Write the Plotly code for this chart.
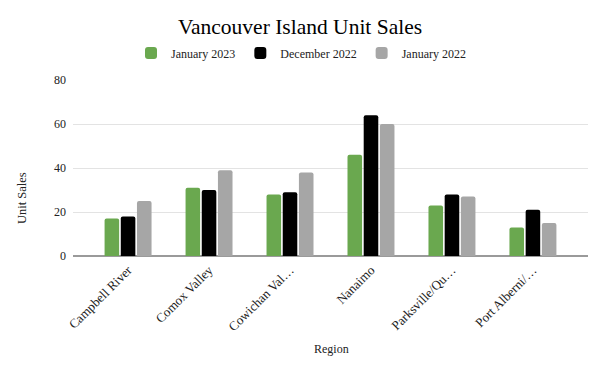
import plotly.graph_objects as go

regions = ["Campbell River", "Comox Valley", "Cowichan Val…", "Nanaimo", "Parksville/Qu…", "Port Alberni/…"]
jan_2023 = [17, 31, 28, 46, 23, 13]
dec_2022 = [18, 30, 29, 64, 28, 21]
jan_2022 = [25, 39, 38, 60, 27, 15]

series = [
    ("January 2023", jan_2023, "#6aa84f"),
    ("December 2022", dec_2022, "#000000"),
    ("January 2022", jan_2022, "#a6a6a6"),
]

FONT = "Liberation Serif, Times New Roman, serif"

fig = go.Figure()
for name, vals, color in series:
    fig.add_trace(go.Bar(
        x=regions, y=vals, name=name,
        marker=dict(color=color, line=dict(width=0), cornerradius=2),
    ))

fig.update_layout(
    width=600, height=368,
    paper_bgcolor="white", plot_bgcolor="white",
    font=dict(family=FONT, color="#222222", size=12),
    margin=dict(l=73, r=12, t=80, b=112, autoexpand=False),
    title=dict(text="Vancouver Island Unit Sales", x=0.5, xanchor="center",
               y=1 - 26 / 368, yanchor="middle",
               font=dict(family=FONT, size=21.5, color="#000000")),
    legend=dict(orientation="h", x=(301 - 73) / 515, xanchor="center", y=1 + (80 - 53) / 176,
                yanchor="middle", font=dict(family=FONT, size=12, color="#222222"),
                itemwidth=30, traceorder="normal"),
    barmode="group", bargap=0.4, bargroupgap=0.1,
    xaxis=dict(range=[-0.68, 5.68], tickangle=-45, showgrid=False, showline=False,
               ticks="", ticklabelstandoff=3,
               tickfont=dict(family=FONT, size=13, color="#222222")),
    yaxis=dict(range=[0, 80], tickvals=[0, 20, 40, 60, 80], showgrid=True,
               gridcolor="#e3e3e3", gridwidth=1, zeroline=True, zerolinecolor="#9a9a9a",
               zerolinewidth=1.5, ticks="", ticklabelstandoff=6,
               tickfont=dict(family=FONT, size=12, color="#222222")),
    showlegend=True,
)

fig.add_annotation(text="Unit Sales", textangle=-90, xref="paper", yref="paper",
                   x=-(73 - 22) / 515, y=(256 - 198) / 176, showarrow=False,
                   xanchor="center", yanchor="middle",
                   font=dict(family=FONT, size=12.5, color="#222222"))
fig.add_annotation(text="Region", xref="paper", yref="paper",
                   x=(331 - 73) / 515, y=-(349 - 256) / 176, showarrow=False,
                   xanchor="center", yanchor="middle",
                   font=dict(family=FONT, size=12, color="#222222"))

fig.write_html("out.html", config={"displayModeBar": False},
               post_script="document.body.style.margin='0';document.body.style.overflow='hidden';")
